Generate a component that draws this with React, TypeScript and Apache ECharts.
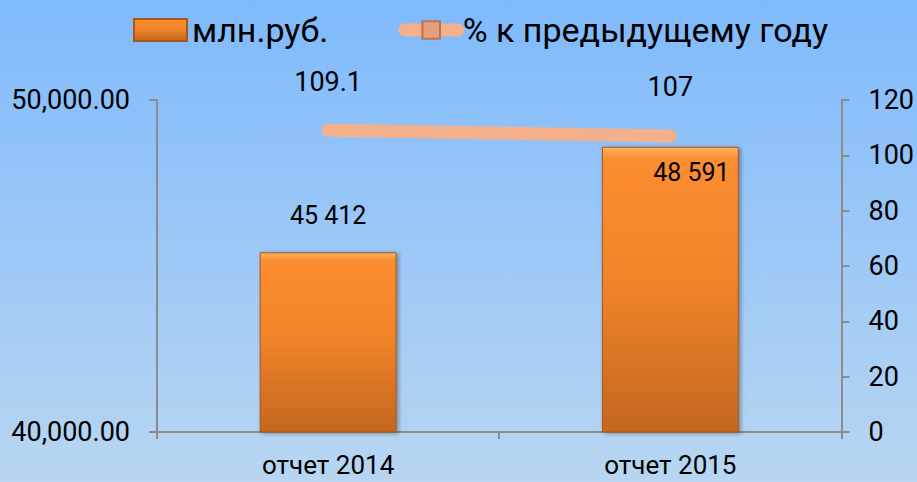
import React, { useEffect, useRef } from "react";
import * as echarts from "echarts";

const categories = ["отчет 2014", "отчет 2015"];
const valuesMln = [45412, 48591];
const valuesPct = [109.1, 107];
const leftAxisMin = 40000;
const leftAxisMax = 50000;
const rightAxisMin = 0;
const rightAxisMax = 120;

const FONT = "Roboto";

function fmtSpace(v: number): string {
  return String(Math.round(v)).replace(/\B(?=(\d{3})+(?!\d))/g, " ");
}
function fmtComma(v: number): string {
  const s = String(Math.round(v)).replace(/\B(?=(\d{3})+(?!\d))/g, ",");
  return s + ".00";
}

export default function App() {
  const ref = useRef<HTMLDivElement>(null);
  useEffect(() => {
    if (!ref.current) return;
    const chart = echarts.init(ref.current, undefined, { renderer: "svg" });
    const barColor = new echarts.graphic.LinearGradient(0, 0, 0, 1, [
      { offset: 0, color: "#fdb564" },
      { offset: 0.04, color: "#fb8d30" },
      { offset: 0.45, color: "#f2852a" },
      { offset: 1, color: "#c4661f" },
    ]);
    chart.setOption({
      animation: false,
      textStyle: { fontFamily: FONT, color: "#000" },
      legend: {
        top: 8,
        left: 128,
        itemWidth: 53,
        itemHeight: 22,
        itemGap: 70,
        textStyle: { fontSize: 34, color: "#000", fontFamily: FONT },
        data: [
          { name: "млн.руб.", icon: "rect" },
          {
            name: "% к предыдущему году",
            lineStyle: { width: 13, cap: "round", color: "#f4b08a" },
          },
        ],
      },
      grid: { left: 157, right: 75, top: 100, bottom: 50 },
      xAxis: {
        type: "category",
        data: categories,
        axisLine: { lineStyle: { color: "#8c8c8c", width: 2 } },
        axisTick: { show: true, length: 7, lineStyle: { color: "#8c8c8c", width: 2 } },
        axisLabel: { fontSize: 26, lineHeight: 26, color: "#000", margin: 20, fontFamily: FONT },
      },
      yAxis: [
        {
          type: "value",
          min: leftAxisMin,
          max: leftAxisMax,
          interval: 10000,
          position: "left",
          splitLine: { show: false },
          axisLine: { show: true, lineStyle: { color: "#8c8c8c", width: 2 } },
          axisTick: { show: true, length: 8, lineStyle: { color: "#8c8c8c", width: 2 } },
          axisLabel: { fontSize: 27, color: "#000", margin: 27, formatter: (v: number) => fmtComma(v), fontFamily: FONT },
        },
        {
          type: "value",
          min: rightAxisMin,
          max: rightAxisMax,
          interval: 20,
          position: "right",
          splitLine: { show: false },
          axisLine: { show: true, lineStyle: { color: "#8c8c8c", width: 2 } },
          axisTick: { show: true, length: 8, lineStyle: { color: "#8c8c8c", width: 2 } },
          axisLabel: { fontSize: 27, color: "#000", margin: 27, fontFamily: FONT },
        },
      ],
      series: [
        {
          name: "млн.руб.",
          type: "bar",
          yAxisIndex: 0,
          barWidth: "40%",
          itemStyle: {
            color: barColor,
            borderColor: "#a9561a",
            borderWidth: 1,
            shadowColor: "rgba(0,0,0,0.35)",
            shadowBlur: 4,
            shadowOffsetX: 2,
            shadowOffsetY: 1,
          },
          label: {
            show: true,
            position: "top",
            distance: 24,
            fontSize: 25,
            color: "#000",
            fontFamily: FONT,
            formatter: (p: any) => fmtSpace(p.value),
          },
          data: [
            { value: valuesMln[0] },
            {
              value: valuesMln[1],
              label: { position: "insideTop", distance: 5, offset: [21, 8] },
            },
          ],
        },
        {
          name: "% к предыдущему году",
          type: "line",
          yAxisIndex: 1,
          symbol: "rect",
          symbolSize: [20, 24],
          showSymbol: true,
          itemStyle: { color: "#e59f7a", borderColor: "#b7765a", borderWidth: 1 },
          lineStyle: { color: "#f4b08a", width: 13, cap: "round" },
          label: {
            show: true,
            position: "top",
            distance: 35,
            fontSize: 27,
            color: "#000",
            fontFamily: FONT,
          },
          data: valuesPct.map((v) => ({ value: v, symbolSize: 0 })),
        },
      ],
    });
    return () => chart.dispose();
  }, []);
  return (
    <div
      ref={ref}
      style={{
        position: "fixed",
        left: 0,
        top: 0,
        width: 917,
        height: 482,
        background: "linear-gradient(to bottom, #7fbafc 0%, #9cc8f7 50%, #b8d6f1 100%)",
      }}
    />
  );
}
